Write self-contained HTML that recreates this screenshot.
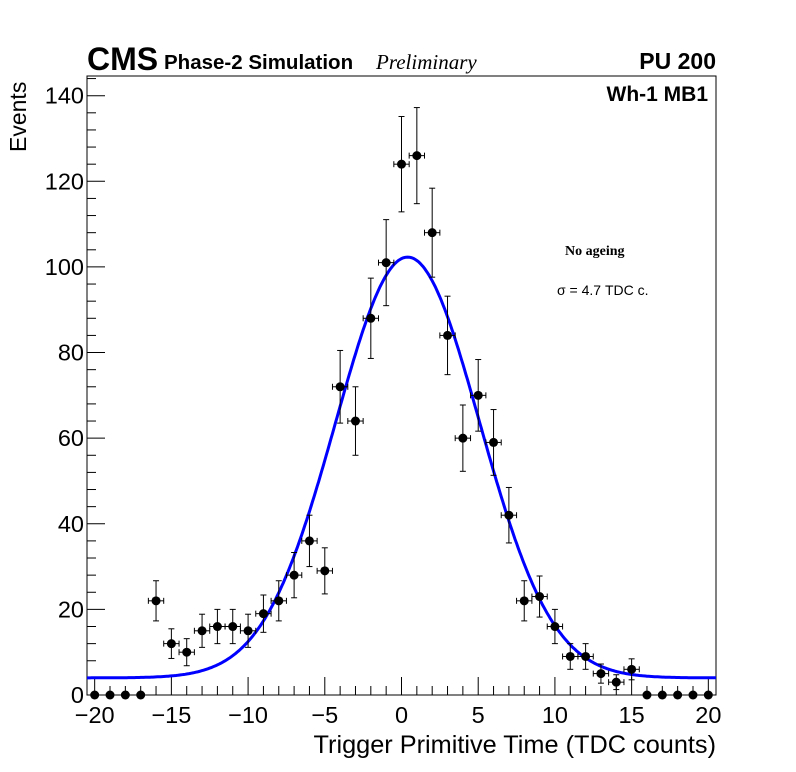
<!DOCTYPE html>
<html><head><meta charset="utf-8"><style>
html,body{margin:0;padding:0;background:#fff}
svg{display:block;font-family:"Liberation Sans",sans-serif}
</style></head><body>
<svg id="chart" width="796" height="772">
<rect x="0" y="0" width="796" height="772" fill="#fff"/>
<g id="axes"></g>
<g id="marks"></g>
<text x="87" y="70" font-size="32" font-weight="bold">CMS</text>
<text x="164" y="69" font-size="20.5" font-weight="bold">Phase-2 Simulation</text>
<text x="376" y="69" font-size="21" font-style="italic" font-family="Liberation Serif,serif">Preliminary</text>
<text x="716" y="69" font-size="23" font-weight="bold" text-anchor="end">PU 200</text>
<text x="708" y="101" font-size="21" font-weight="bold" text-anchor="end">Wh-1 MB1</text>
<text x="565" y="255" font-size="14" font-weight="bold" font-family="Liberation Serif,serif">No ageing</text>
<text x="557" y="295" font-size="14">σ = 4.7 TDC c.</text>
<text x="716" y="753" font-size="25.3" text-anchor="end">Trigger Primitive Time (TDC counts)</text>
<text transform="translate(26,152) rotate(-90)" font-size="23">Events</text>
</svg>
<script>
const binCenters=[-20,-19,-18,-17,-16,-15,-14,-13,-12,-11,-10,-9,-8,-7,-6,-5,-4,-3,-2,-1,0,1,2,3,4,5,6,7,8,9,10,11,12,13,14,15,16,17,18,19,20];
const counts=[0,0,0,0,22,12,10,15,16,16,15,19,22,28,36,29,72,64,88,101,124,126,108,84,60,70,59,42,22,23,16,9,9,5,3,6,0,0,0,0,0];
const fitParams=[98.3,0.4,4.7,4.0]; // amplitude, mean, sigma, baseline
const xTicks=[-20,-15,-10,-5,0,5,10,15,20];
const yTicks=[0,20,40,60,80,100,120,140];
const L=87,R=716,T=76,B=695,XMIN=-20.5,XMAX=20.5,YMIN=0,YMAX=144.6;
const sx=v=>L+(v-XMIN)/(XMAX-XMIN)*(R-L);
const sy=v=>B-(v-YMIN)/(YMAX-YMIN)*(B-T);
const NS="http://www.w3.org/2000/svg";
function mk(tag,attrs,parent){const e=document.createElementNS(NS,tag);for(const k in attrs)e.setAttribute(k,attrs[k]);parent.appendChild(e);return e;}
const ax=document.getElementById('axes'),mg=document.getElementById('marks');
const frame=mk('rect',{x:L,y:T,width:R-L,height:B-T,fill:'none',stroke:'#000','stroke-width':1},ax);


for(let v=-20;v<=20;v++){const major=v%5===0;const t=mk('line',{x1:sx(v),x2:sx(v),y1:B,y2:B-(major?18:9),stroke:'#000'},ax);

}
xTicks.forEach(v=>{const t=mk('text',{x:sx(v),y:B+28,'font-size':23.5,'text-anchor':'middle'},ax);t.textContent=(v<0?'\u2212'+(-v):String(v));

});
for(let v=0;v<=144;v+=4){const major=v%20===0;const t=mk('line',{x1:L,x2:L+(major?18:9),y1:sy(v),y2:sy(v),stroke:'#000'},ax);

}
yTicks.forEach(v=>{const t=mk('text',{x:L-3,y:sy(v)+8,'font-size':23.5,'text-anchor':'end'},ax);t.textContent=String(v);

});
let d='';for(let x=XMIN;x<=XMAX+1e-9;x+=0.1){const y=fitParams[3]+fitParams[0]*Math.exp(-0.5*Math.pow((x-fitParams[1])/fitParams[2],2));d+=(d?'L':'M')+sx(x).toFixed(1)+','+sy(y).toFixed(1);}
const fit=mk('path',{d:d,fill:'none',stroke:'#0000ff','stroke-width':3},mg);


binCenters.forEach((x,i)=>{const n=counts[i];const g=mk('g',{},mg);


const cx=sx(x),cy=sy(n);
if(n>0){const e=Math.sqrt(n);
mk('line',{x1:cx,x2:cx,y1:sy(n+e),y2:sy(n-e),stroke:'#000'},g);
mk('line',{x1:cx-3,x2:cx+3,y1:sy(n+e),y2:sy(n+e),stroke:'#000'},g);
mk('line',{x1:cx-3,x2:cx+3,y1:sy(n-e),y2:sy(n-e),stroke:'#000'},g);
mk('line',{x1:sx(x-0.5),x2:sx(x+0.5),y1:cy,y2:cy,stroke:'#000'},g);
mk('line',{x1:sx(x-0.5),x2:sx(x-0.5),y1:cy-3,y2:cy+3,stroke:'#000'},g);
mk('line',{x1:sx(x+0.5),x2:sx(x+0.5),y1:cy-3,y2:cy+3,stroke:'#000'},g);}
mk('circle',{cx:cx,cy:cy,r:4.5,fill:'#000'},g);});
</script>
</body></html>
